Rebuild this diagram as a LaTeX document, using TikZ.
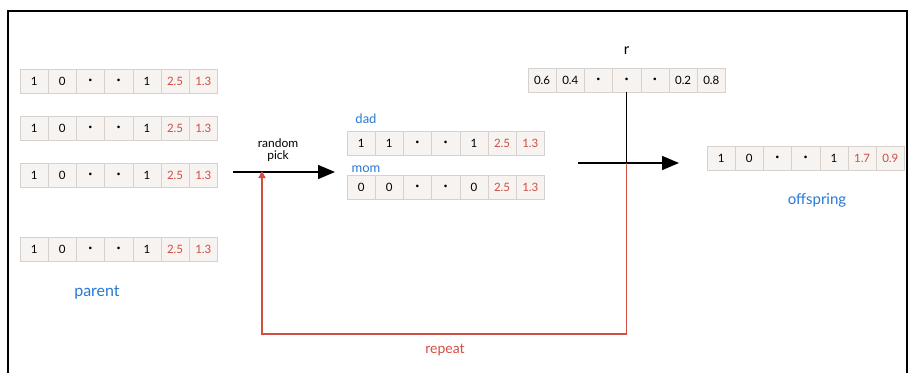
\documentclass[tikz,border=0pt]{standalone}
\usepackage{fontspec}
\setmainfont{Lato}
\usetikzlibrary{arrows.meta}
\definecolor{inkred}{RGB}{208,78,68}
\definecolor{inkblue}{RGB}{40,120,212}
\definecolor{cellfill}{RGB}{246,243,240}
\definecolor{cellline}{RGB}{214,209,204}
% small filled dot used for the elided genes
\newcommand\genedot{{\fontsize{7}{7}\selectfont •}}
% one chromosome: #1 name, #2 left x, #3 centre y, #4 number of black cells, #5 values
\newcommand\chromrow[5]{%
  \foreach \val [count=\i] in {#5} {
    \pgfmathsetmacro\cx{#2+(\i-0.5)*28.2}
    \ifnum\i>#4 \def\cc{inkred}\else\def\cc{black}\fi
    \node[cell,text=\cc] (#1-\i) at (\cx,#3) {\val};
  }}
\begin{document}
\begin{tikzpicture}[x=1pt,y=-1pt,
  cell/.style={draw=cellline,fill=cellfill,line width=0.6pt,minimum width=28.2pt,
    minimum height=24pt,inner sep=0pt,font=\fontsize{11.5}{11.5}\selectfont},
  bluelabel/.style={text=inkblue,inner sep=1pt},
  flow/.style={line width=1.5pt,-{Triangle[length=17pt,width=14pt]}},
  loopline/.style={draw=inkred,line width=1.3pt,-{Triangle[length=7pt,width=7pt]}}]
\useasboundingbox (0,0) rectangle (908,373);
% frame
\draw[line width=1.6pt] (8,373) -- (8,11) -- (907,11) -- (907,373);

% parents
\chromrow{pa}{20}{81}{5}{1,0,\genedot,\genedot,1,2.5,1.3}
\chromrow{pb}{20}{128}{5}{1,0,\genedot,\genedot,1,2.5,1.3}
\chromrow{pc}{20}{175}{5}{1,0,\genedot,\genedot,1,2.5,1.3}
\chromrow{pd}{20}{249}{5}{1,0,\genedot,\genedot,1,2.5,1.3}
\node[bluelabel,font=\fontsize{16}{16}\selectfont] (parent) at (97,292) {parent};

% random pick
\coordinate (pickstart) at (233,172);
\coordinate (pickend) at (335,172);
\draw[flow] (pickstart) -- (pickend);
\node[align=center,font=\fontsize{12}{12.5}\selectfont,inner sep=0pt] (pick) at (278,150) {random\\pick};

% selected pair
\node[bluelabel,font=\fontsize{13}{13}\selectfont] (dad) at (366,119) {dad};
\chromrow{dd}{347}{143}{5}{1,1,\genedot,\genedot,1,2.5,1.3}
\node[bluelabel,font=\fontsize{13}{13}\selectfont] (mom) at (366,169) {mom};
\chromrow{mm}{347}{187}{5}{0,0,\genedot,\genedot,0,2.5,1.3}

% random vector
\chromrow{rr}{528}{80}{7}{0.6,0.4,\genedot,\genedot,\genedot,0.2,0.8}
\node[font=\fontsize{15}{15}\selectfont,inner sep=0pt] (r) at (rr-4 |- 0,51) {r};

% crossover
\coordinate (cross) at (rr-4 |- 0,163);
\coordinate (mixstart) at (578,163);
\coordinate (mixend) at (679,163);
\draw[line width=1.5pt] (rr-4.south) -- (cross);
\draw[flow] (mixstart) -- (mixend);

% offspring
\chromrow{off}{707}{158}{5}{1,0,\genedot,\genedot,1,1.7,0.9}
\node[bluelabel,font=\fontsize{15}{15}\selectfont] (offspring) at (817,200) {offspring};

% repeat loop
\coordinate (loopa) at (cross |- 0,334);
\draw[loopline] (cross) -- (loopa) -| ([yshift=1pt]pickstart -| 262,0);
\node[text=inkred,font=\fontsize{14}{14}\selectfont] (repeat) at (445,350) {repeat};
\end{tikzpicture}
\end{document}
